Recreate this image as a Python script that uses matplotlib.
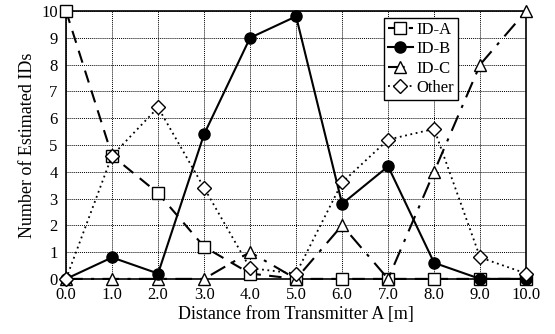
import matplotlib
matplotlib.use("Agg")
import matplotlib.pyplot as plt

# distancia al transmisor A [m]
distance = [0, 1, 2, 3, 4, 5, 6, 7, 8, 9, 10]
id_a = [10, 4.6, 3.2, 1.2, 0.2, 0, 0, 0, 0, 0, 0]
id_b = [0, 0.8, 0.2, 5.4, 9.0, 9.8, 2.8, 4.2, 0.6, 0, 0]
id_c = [0, 0, 0, 0, 1.0, 0, 2.0, 0, 4.0, 8.0, 10]
other = [0, 4.6, 6.4, 3.4, 0.4, 0.2, 3.6, 5.2, 5.6, 0.8, 0.2]

x_ticks = [0, 1, 2, 3, 4, 5, 6, 7, 8, 9, 10]
x_ticklabels = ["0.0", "1.0", "2.0", "3.0", "4.0", "5.0", "6.0", "7.0", "8.0", "9.0", "10.0"]
y_ticks = list(range(0, 11))

plt.rcParams["font.family"] = ["Liberation Serif", "DejaVu Serif"]

fig = plt.figure(figsize=(5.55, 3.34), dpi=100)
ax = fig.add_axes([0.119, 0.165, 0.829, 0.802])

ax.plot(distance, id_a, color="black", linestyle=(0, (6, 4)), linewidth=1.5,
        marker="s", markersize=8, markerfacecolor="white", markeredgecolor="black",
        markeredgewidth=1.0, label="ID-A", zorder=3)
ax.plot(distance, id_b, color="black", linestyle="-", linewidth=1.5,
        marker="o", markersize=8, markerfacecolor="black", markeredgecolor="black",
        label="ID-B", zorder=4)
ax.plot(distance, id_c, color="black", linestyle=(0, (8, 4, 1.5, 4)), linewidth=1.5,
        marker="^", markersize=8, markerfacecolor="white", markeredgecolor="black",
        markeredgewidth=1.0, label="ID-C", zorder=3)
ax.plot(distance, other, color="black", linestyle=(0, (1, 2)), linewidth=1.3,
        marker="D", markersize=7, markerfacecolor="white", markeredgecolor="black",
        markeredgewidth=1.0, label="Other", zorder=5)

ax.set_xlim(0, 10)
ax.set_ylim(0, 10)
ax.set_xticks(x_ticks)
ax.set_xticklabels(x_ticklabels)
ax.set_yticks(y_ticks)
ax.tick_params(axis="both", labelsize=12, length=0, pad=6, colors="black")
ax.grid(True, color="black", linestyle=(0, (1, 1)), linewidth=0.7)
ax.set_axisbelow(True)
for sp in ax.spines.values():
    sp.set_linewidth(1.2)
    sp.set_color("black")

ax.set_xlabel("Distance from Transmitter A [m]", fontsize=13, labelpad=2)
ax.set_ylabel("Number of Estimated IDs", fontsize=13, labelpad=4)

for line in ax.get_lines():
    line.set_clip_on(False)

leg = ax.legend(loc="upper left", bbox_to_anchor=(0.69, 0.975), fontsize=12,
                frameon=True, fancybox=False, edgecolor="black", framealpha=1,
                handlelength=1.5, handletextpad=0.2, borderpad=0.25, labelspacing=0.2,
                borderaxespad=0)
leg.get_frame().set_linewidth(1.0)

fig.savefig("out.png", dpi=100)
plt.close(fig)
